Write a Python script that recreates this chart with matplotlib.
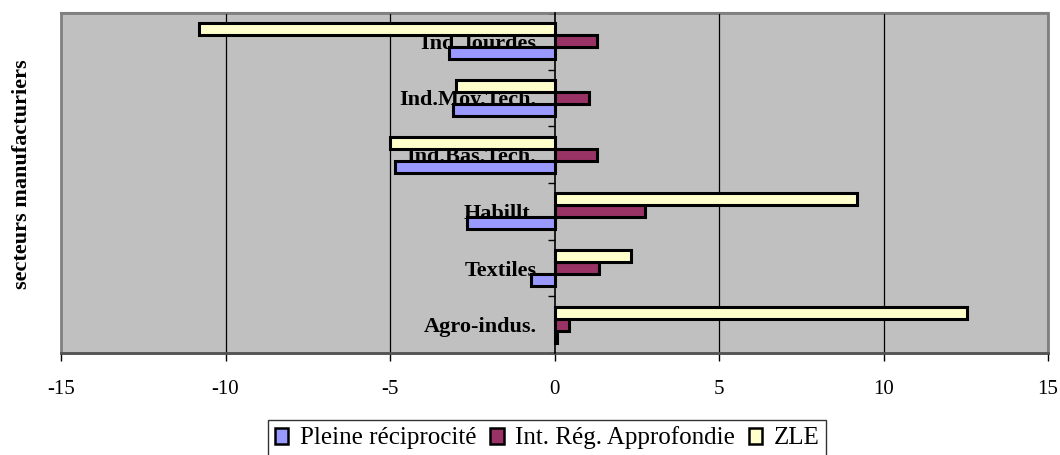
import matplotlib
matplotlib.use("Agg")
import matplotlib.pyplot as plt
from matplotlib.patches import Rectangle
import numpy as np

categories = ["Agro-indus.", "Textiles", "Habillt.", "Ind.Bas.Tech.", "Ind.Moy.Tech.", "Ind. lourdes"]
pleine = [0.09, -0.71, -2.67, -4.86, -3.09, -3.22]
int_reg = [0.45, 1.35, 2.76, 1.30, 1.05, 1.30]
zle = [12.53, 2.32, 9.18, -5.01, -2.99, -10.81]
series_names = ["Pleine réciprocité", "Int. Rég. Approfondie", "ZLE"]
colors = ["#9999FF", "#993366", "#FFFFCC"]
xticks = [-15, -10, -5, 0, 5, 10, 15]

plt.rcParams['font.family'] = ['Liberation Serif', 'DejaVu Serif']

fig = plt.figure(figsize=(10.6, 4.55), dpi=100)
ax = fig.add_axes([61/1060, 1-353/455, (1048-61)/1060, (353-13)/455])
ax.set_facecolor("#C0C0C0")

y = np.arange(len(categories))
h = 0.21
for vals, off, col, name in zip([pleine, int_reg, zle], [-h, 0, h], colors, series_names):
    ax.barh(y + off, vals, height=h, color=col, edgecolor="black", linewidth=2.2, label=name, zorder=2)

ax.set_xlim(-15, 15)
ax.set_ylim(-0.5, len(categories) - 0.5)
ax.set_xticks(xticks)
ax.set_xticklabels([str(v) for v in xticks], fontsize=15)
ax.tick_params(axis='x', direction='out', length=6, width=1, color='black', pad=13.5)
for v in xticks[1:-1]:
    if v != 0:
        ax.axvline(v, color='black', linewidth=0.9, zorder=1)

# zero axis with category ticks
ax.spines['left'].set_position(('data', 0))
ax.spines['left'].set_color('black')
ax.spines['left'].set_linewidth(1.2)
ax.spines['left'].set_zorder(3)
ax.set_yticks(np.arange(-0.5, len(categories) - 0.4, 1.0))
ax.set_yticklabels([])
ax.tick_params(axis='y', which='major', direction='out', length=5, width=1, color='black')
ax.set_yticks(y, categories, minor=True)
ax.tick_params(axis='y', which='minor', length=0, pad=13)
for lab in ax.get_yticklabels(minor=True):
    lab.set_fontsize(16)
    lab.set_fontweight('bold')
    lab.set_zorder(5)

for s in ['top', 'right']:
    ax.spines[s].set_color('#808080')
    ax.spines[s].set_linewidth(1.5)
ax.spines['bottom'].set_color('#555555')
ax.spines['bottom'].set_linewidth(2)
ax.add_patch(Rectangle((0, 0), 1, 1, transform=ax.transAxes, fill=False,
                       edgecolor='#808080', linewidth=2, zorder=0.5, clip_on=False))

fig.text(22/1060, 1-174/455, "secteurs manufacturiers", rotation=90, ha='center', va='center',
         fontsize=16, fontweight='bold')

leg = fig.legend(loc='center', bbox_to_anchor=(547/1060, 1-438/455), ncol=3, fontsize=18,
                 frameon=True, fancybox=False, edgecolor='black', handlelength=0.55,
                 handleheight=0.6, handletextpad=0.45, columnspacing=0.55, borderpad=0.25,
                 borderaxespad=0)
leg.get_frame().set_linewidth(1)
for p in leg.get_patches():
    p.set_linewidth(1.8)

fig.savefig("out.png", dpi=100)
